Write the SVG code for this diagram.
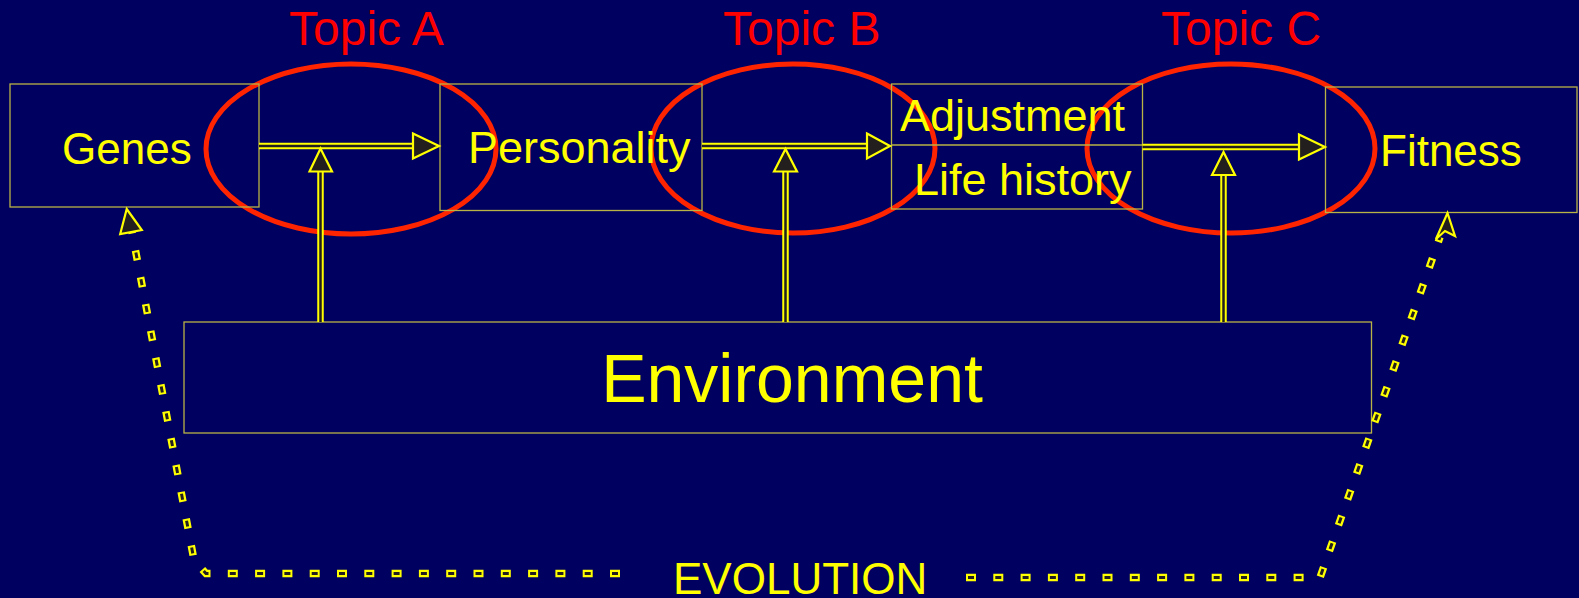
<svg xmlns="http://www.w3.org/2000/svg" width="1579" height="598" viewBox="0 0 1579 598">
<style>
.box{fill:none;stroke:#b9b244;stroke-width:1.3}
.lbl{font-family:"Liberation Sans",Arial,sans-serif;fill:#ffff00}
.topic{font-family:"Liberation Sans",Arial,sans-serif;fill:#ff0000;font-size:48px}
.ell{fill:none;stroke:#ff2400;stroke-width:5}
.shO{stroke:#ffff00;stroke-width:6.5;fill:none}
.shI{stroke:#231f1e;stroke-width:2.5;fill:none}
.head{fill:#231f1e;stroke:#ffff00;stroke-width:2.2;stroke-linejoin:miter}
.dO{stroke:#ffff00;stroke-width:7.5;fill:none;stroke-dasharray:10 17.3}
.dI{stroke:#231f1e;stroke-width:3;fill:none;stroke-dasharray:6 21.3;stroke-dashoffset:-2}
</style>
<rect width="1579" height="598" fill="#000060"/>
<g id="topics">
<ellipse class="ell" cx="351" cy="149" rx="145" ry="85"/>
<ellipse class="ell" cx="793" cy="148.5" rx="142" ry="84.5"/>
<ellipse class="ell" cx="1231" cy="148.5" rx="144" ry="84.5"/>
<text class="topic" x="289" y="45">Topic A</text>
<text class="topic" x="723" y="45">Topic B</text>
<text class="topic" x="1161" y="45">Topic C</text>
</g>
<g id="genes">
<rect class="box" x="10" y="84" width="249" height="123"/>
<text class="lbl" x="62" y="164" font-size="44">Genes</text>
</g>
<g id="personality">
<rect class="box" x="440" y="84" width="262" height="126.5"/>
<text class="lbl" x="468" y="163" font-size="45">Personality</text>
</g>
<g id="adjustment">
<rect class="box" x="891.5" y="84" width="251" height="125"/>
<line class="box" x1="891.5" y1="145" x2="1142.5" y2="145"/>
<text class="lbl" x="900" y="131" font-size="45">Adjustment</text>
<text class="lbl" x="914" y="195" font-size="45">Life history</text>
</g>
<g id="fitness">
<rect class="box" x="1325.5" y="87" width="251.5" height="125.5"/>
<text class="lbl" x="1380" y="166" font-size="44">Fitness</text>
</g>
<g id="environment">
<rect class="box" x="184" y="322" width="1187.5" height="111"/>
<text class="lbl" x="792" y="401.5" font-size="68" text-anchor="middle">Environment</text>
</g>
<g id="evolution-label">
<text class="lbl" x="673" y="594" font-size="44">EVOLUTION</text>
</g>
<g id="connectors">
<path class="shO" d="M259 146H413"/><path class="shI" d="M259 146H415"/>
<polygon class="head" points="413,133.5 439,146 413,158.5"/>
<path class="shO" d="M702 146H867"/><path class="shI" d="M702 146H869"/>
<polygon class="head" points="867,133.5 890,146 867,158.5"/>
<path class="shO" d="M1142.5 147H1299"/><path class="shI" d="M1142.5 147H1301"/>
<polygon class="head" points="1299,134.5 1325,147 1299,159.5"/>
<path class="shO" d="M320.5 322V171"/><path class="shI" d="M320.5 322V169"/>
<polygon class="head" points="309.5,171.5 320.5,148.5 332,171.5"/>
<path class="shO" d="M785.5 322V171"/><path class="shI" d="M785.5 322V169"/>
<polygon class="head" points="774,171.5 785.5,149 797,171.5"/>
<path class="shO" d="M1223.5 322V175"/><path class="shI" d="M1223.5 322V173"/>
<polygon class="head" points="1212,175 1223.5,152 1235,175"/>
<path class="dO" d="M620 573.5H206L194 560L132 232"/>
<path class="dI" d="M620 573.5H206L194 560L132 232"/>
<polygon class="head" points="126.7,209 141.8,230 120.2,234"/>
<path class="dO" d="M966 577.5H1320L1440 237"/>
<path class="dI" d="M966 577.5H1320L1440 237"/>
<polygon class="head" points="1447.5,213 1455,236 1445,231 1436,239"/>
</g>
</svg>
